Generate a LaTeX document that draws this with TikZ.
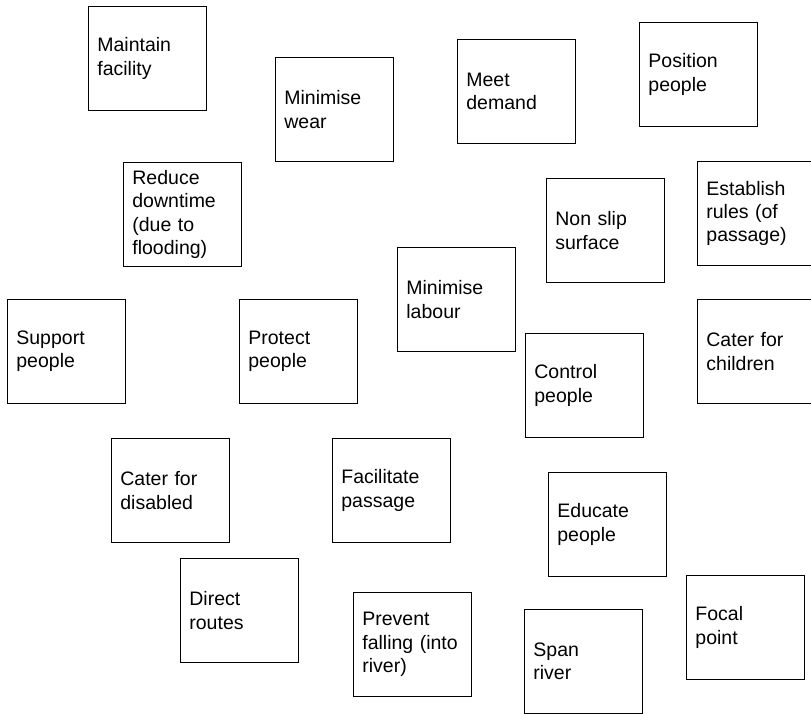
\documentclass[tikz,border=0pt]{standalone}
\usepackage{fontspec}
\setmainfont{Liberation Sans}
\begin{document}
\begin{tikzpicture}[x=1pt,y=-1pt,
    fn/.style={shape=rectangle,draw=black,line width=0.8pt,anchor=north west,
        text width=100pt,inner xsep=9pt,minimum height=104pt,align=left,
        font=\fontsize{19.5}{23.3}\selectfont}]
            \useasboundingbox (0,0) rectangle (811,714);
            % functions
            \node[fn] (f1) at (88,6) {Maintain\\facility};
            \node[fn] (f2) at (275,57) {Minimise\\wear};
            \node[fn] (f3) at (457,39) {Meet\\demand};
            \node[fn] (f4) at (639,22) {Position\\people};
            \node[fn] (f5) at (123,162) {Reduce\\downtime\\(due to\\flooding)};
            \node[fn] (f6) at (546,178) {Non slip\\surface};
            \node[fn] (f7) at (697,161) {Establish\\rules (of\\passage)};
            \node[fn] (f8) at (397,247) {Minimise\\labour};
            \node[fn] (f9) at (7,299) {Support\\people};
            \node[fn] (f10) at (239,299) {Protect\\people};
            \node[fn] (f11) at (697,299) {Cater for\\children};
            \node[fn] (f12) at (525,333) {Control\\people};
            \node[fn] (f13) at (111,438) {Cater for\\disabled};
            \node[fn] (f14) at (332,438) {Facilitate\\passage};
            \node[fn] (f15) at (548,472) {Educate\\people};
            \node[fn] (f16) at (180,558) {Direct\\routes};
            \node[fn] (f17) at (353,592) {Prevent\\falling (into\\river)};
            \node[fn] (f18) at (524,609) {Span\\river};
            \node[fn] (f19) at (686,575) {Focal\\point};
        \end{tikzpicture}
\end{document}
